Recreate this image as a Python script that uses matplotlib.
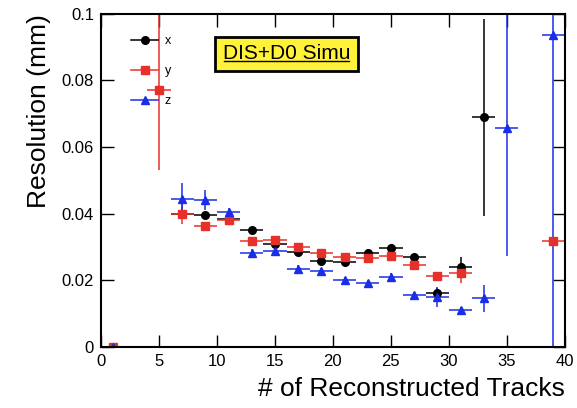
import numpy as np
import matplotlib
matplotlib.use("Agg")
import matplotlib.pyplot as plt
from matplotlib.lines import Line2D

plt.rcParams['font.family'] = ['Liberation Sans', 'DejaVu Sans']

# bin centres (# of tracks), bin half-width 1
x_pos = [1, 7, 9, 11, 13, 15, 17, 19, 21, 23, 25, 27, 29, 31, 33]
x_res = [0.0, 0.0398, 0.0395, 0.0385, 0.0351, 0.0310, 0.0286, 0.0259, 0.0256,
         0.0283, 0.0296, 0.0269, 0.0161, 0.0239, 0.0689]
x_err = [0.0, 0.001, 0.001, 0.001, 0.001, 0.001, 0.001, 0.001, 0.001,
         0.001, 0.001, 0.001, 0.0015, 0.003, 0.0296]

y_pos = [1, 5, 7, 9, 11, 13, 15, 17, 19, 21, 23, 25, 27, 29, 31, 39]
y_res = [0.0, 0.0772, 0.0398, 0.0363, 0.0381, 0.0318, 0.0321, 0.0301, 0.0281,
         0.0271, 0.0266, 0.0274, 0.0246, 0.0214, 0.0221, 0.0319]
y_err = [0.0, 0.0242, 0.003, 0.001, 0.001, 0.001, 0.001, 0.001, 0.001,
         0.001, 0.001, 0.001, 0.001, 0.001, 0.003, 0.001]

z_pos = [1, 7, 9, 11, 13, 15, 17, 19, 21, 23, 25, 27, 29, 31, 33, 35, 39]
z_res = [0.0, 0.0443, 0.0441, 0.0406, 0.0283, 0.0288, 0.0235, 0.0228, 0.0201,
         0.0191, 0.0211, 0.0156, 0.0151, 0.0111, 0.0146, 0.0657, 0.0937]
z_err = [0.0, 0.005, 0.003, 0.001, 0.001, 0.001, 0.001, 0.001, 0.001,
         0.001, 0.001, 0.001, 0.003, 0.001, 0.004, 0.0384, 0.0937]

series = [
    ("x", x_pos, x_res, x_err, "black", "o"),
    ("y", y_pos, y_res, y_err, "#e8302a", "s"),
    ("z", z_pos, z_res, z_err, "#1a2ee8", "^"),
]

fig = plt.figure(figsize=(5.77, 4.08), dpi=100)
ax = fig.add_axes([0.175, 0.150, 0.804, 0.816])

handles = []
for name, pos, res, err, col, mk in series:
    ax.errorbar(pos, res, xerr=1, yerr=err, fmt=mk, color=col, ms=5.5,
                elinewidth=1.1, capsize=0, clip_on=True)
    handles.append(Line2D([], [], color=col, marker=mk, ms=5.5, lw=1.1))

ax.set_xlim(0, 40)
ax.set_ylim(0, 0.1)
ax.set_xticks([0, 5, 10, 15, 20, 25, 30, 35, 40])
ax.set_yticks([0, 0.02, 0.04, 0.06, 0.08, 0.1])
ax.set_yticklabels(["0", "0.02", "0.04", "0.06", "0.08", "0.1"])
ax.tick_params(direction="in", length=9, width=1, top=True, right=True,
               labelsize=12, pad=5)
for s in ax.spines.values():
    s.set_linewidth(1.5)

ax.set_xlabel("# of Reconstructed Tracks", fontsize=19, loc="right",
              labelpad=6)
ax.set_ylabel("Resolution (mm)", fontsize=19, loc="top", labelpad=8)

ax.legend(handles, ["x", "y", "z"], loc="upper left",
          bbox_to_anchor=(0.04, 0.97), frameon=False, fontsize=9,
          handlelength=2.2, labelspacing=1.45, handletextpad=0.5)

txt = ax.text(0.263, 0.88, "DIS+D0 Simu", transform=ax.transAxes,
              fontsize=15, ha="left", va="center",
              bbox=dict(boxstyle="square,pad=0.36", fc="#fff23a", ec="black",
                        lw=2))
fig.canvas.draw()
bb = txt.get_window_extent().transformed(ax.transAxes.inverted())
ax.plot([bb.x0 + 0.003, bb.x1 - 0.003], [bb.y0 + 0.006, bb.y0 + 0.006],
        color="black", lw=1, transform=ax.transAxes, clip_on=False, zorder=6)

fig.savefig("out.png", dpi=100)
